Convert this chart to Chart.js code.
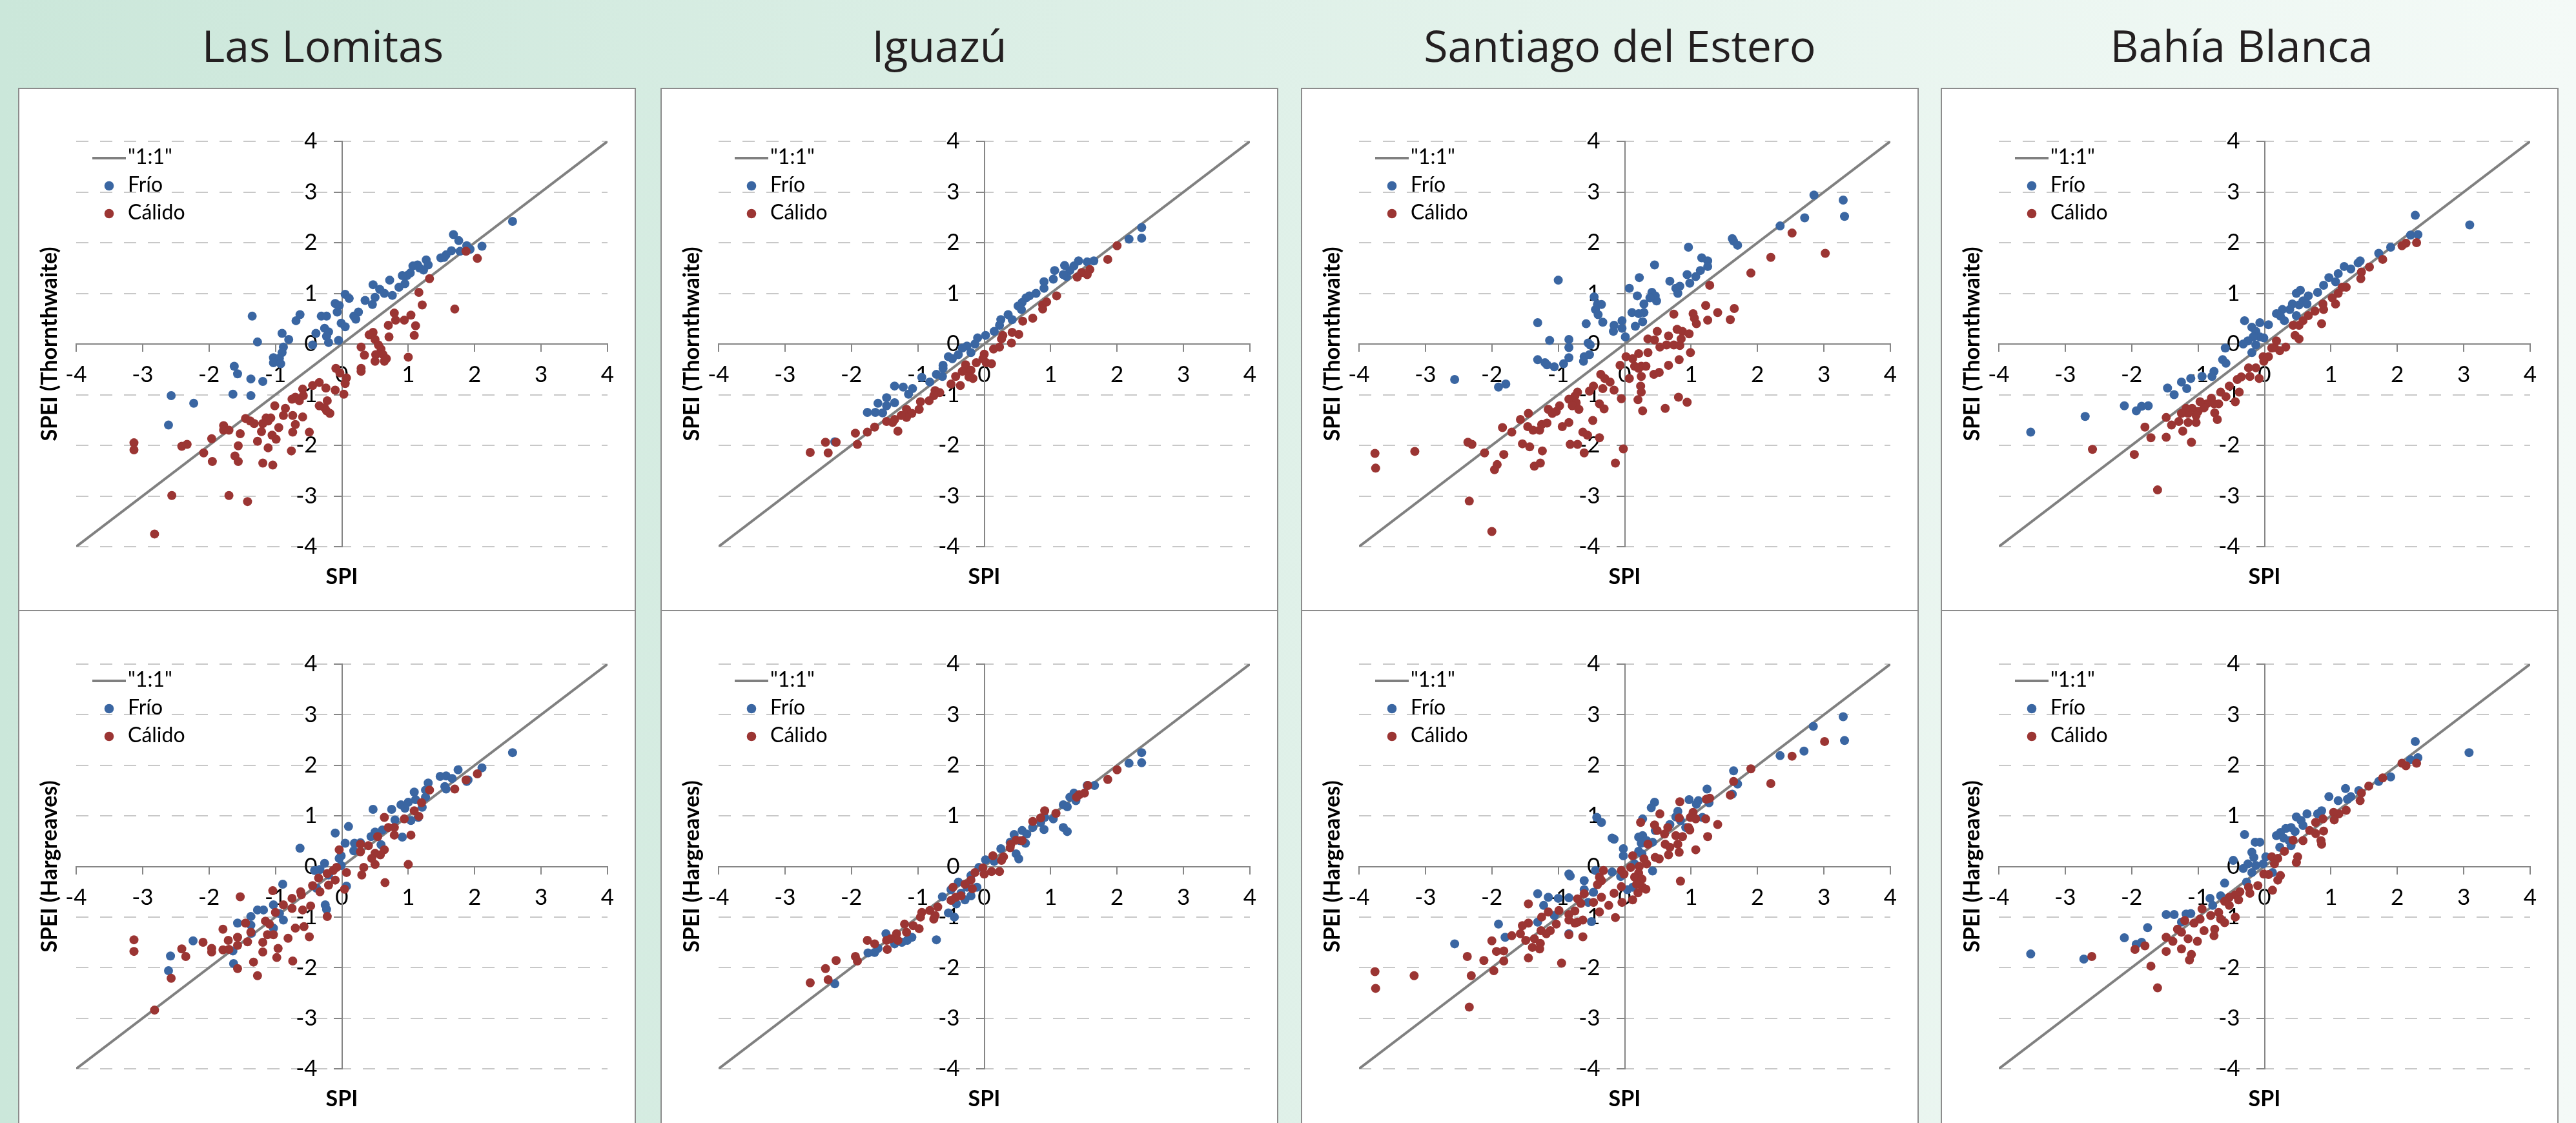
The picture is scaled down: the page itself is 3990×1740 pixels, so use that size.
<!DOCTYPE html>
<html lang="es">
<head>
  <meta charset="UTF-8">
  <title>SPEI vs SPI</title>
  <script src="https://cdn.jsdelivr.net/npm/chart.js@4.4.1/dist/chart.umd.min.js"></script>
  <style>
    html, body { margin: 0; padding: 0; }
    body {
      width: 3990px; height: 1740px; overflow: hidden; position: relative;
      background: linear-gradient(to right, #cbe7da, #f4faf7);
    }
    .title {
      position: absolute; top: 36px; width: 1000px; text-align: center;
      font-family: "Open Sans", sans-serif; font-size: 68px; line-height: 1; color: #231f20;
    }
    .panel {
      position: absolute; box-sizing: border-box; width: 957px;
      background: #fff; border: 2px solid #8c8c8c;
    }
    .panel canvas { display: block; }
  </style>
</head>
<body>

<script>
// ---------------- data ----------------
const stations = ['Las Lomitas', 'Iguazú', 'Santiago del Estero', 'Bahía Blanca'];
const titleCenters = [500, 1455, 2509, 3472];
const yTitles = ['SPEI (Thornthwaite)', 'SPEI (Hargreaves)'];
const tickValues = [-4, -3, -2, -1, 0, 1, 2, 3, 4];
const oneToOne = [[-4, -4], [4, 4]];

// Las Lomitas - Thornthwaite
const llThFrio = [[2.57,2.42],[1.68,2.16],[1.76,2.04],[2.11,1.93],[1.88,1.94],[1.93,1.87],[1.78,1.83],[1.65,1.84],[1.57,1.76],[1.49,1.70],[1.54,1.71],[1.27,1.66],[1.30,1.56],[1.14,1.56],[1.07,1.54],[1.23,1.46],[1.17,1.50],[1.03,1.40],[0.98,1.35],[0.91,1.35],[0.72,1.26],[0.47,1.17],[0.95,1.19],[0.86,1.12],[0.57,1.08],[0.64,1.00],[0.76,0.96],[0.50,0.92],[0.05,0.98],[0.11,0.90],[0.35,0.86],[0.46,0.78],[-0.10,0.80],[-0.04,0.76],[-0.07,0.63],[0.25,0.63],[0.18,0.55],[0.21,0.49],[-0.01,0.41],[0.05,0.34],[-0.63,0.58],[-0.69,0.46],[-1.35,0.55],[-0.31,0.55],[-0.23,0.55],[-0.26,0.31],[-0.20,0.24],[-0.23,0.15],[-0.20,0.03],[-0.05,0.07],[-0.39,0.21],[-0.90,0.21],[-0.80,0.09],[-1.27,0.04],[-0.44,-0.02],[-0.88,-0.06],[-0.90,-0.17],[-1.03,-0.27],[-0.94,-0.28],[-1.03,-0.37],[-0.92,-0.39],[-1.19,-0.74],[-1.37,-0.69],[-1.62,-0.44],[-1.57,-0.59],[-1.64,-0.99],[-1.37,-1.02],[-2.23,-1.17],[-2.57,-1.02],[-2.61,-1.60]];
const llThCalido = [[1.87,1.83],[2.04,1.69],[1.32,1.29],[1.16,1.02],[1.21,0.77],[1.70,0.69],[0.79,0.61],[1.04,0.57],[0.81,0.47],[0.94,0.47],[0.70,0.37],[1.11,0.36],[0.47,0.23],[0.41,0.18],[1.09,0.17],[0.71,0.14],[0.50,0.09],[0.55,-0.02],[0.29,-0.06],[0.59,-0.10],[0.34,-0.22],[0.51,-0.21],[0.62,-0.21],[1.00,-0.26],[0.67,-0.29],[0.50,-0.34],[0.64,-0.34],[0.29,-0.48],[0.29,-0.54],[-0.09,-0.48],[-0.03,-0.57],[0.07,-0.67],[0.05,-0.78],[-0.10,-0.91],[0.03,-0.99],[-0.24,-0.87],[-0.34,-0.76],[-0.44,-0.82],[-0.59,-0.89],[-0.58,-1.02],[-0.70,-1.05],[-0.75,-1.09],[-0.64,-1.12],[-0.22,-1.12],[-0.34,-1.22],[-0.26,-1.26],[-0.18,-1.37],[-0.23,-1.32],[-1.01,-1.22],[-0.85,-1.27],[-0.88,-1.41],[-0.74,-1.41],[-0.59,-1.44],[-1.14,-1.46],[-1.07,-1.46],[-1.11,-1.52],[-1.45,-1.47],[-1.38,-1.52],[-1.32,-1.57],[-1.19,-1.57],[-0.95,-1.65],[-0.70,-1.59],[-1.78,-1.61],[-1.78,-1.70],[-1.70,-1.70],[-1.53,-1.77],[-1.21,-1.73],[-0.74,-1.74],[-0.49,-1.74],[-1.05,-1.80],[-0.99,-1.88],[-1.96,-1.87],[-1.56,-2.01],[-1.27,-1.92],[-1.11,-2.05],[-0.76,-2.11],[-3.13,-1.95],[-3.13,-2.09],[-2.41,-2.02],[-2.33,-1.98],[-2.08,-2.15],[-1.95,-2.32],[-1.61,-2.21],[-1.56,-2.32],[-1.19,-2.35],[-1.04,-2.39],[-2.56,-2.99],[-1.70,-2.99],[-1.42,-3.11],[-2.82,-3.75]];

// Las Lomitas - Hargreaves
const llHgFrio = [[2.57,2.25],[2.11,1.95],[1.75,1.91],[1.48,1.78],[1.57,1.79],[1.66,1.74],[1.90,1.71],[1.88,1.68],[1.30,1.65],[1.55,1.58],[1.57,1.53],[1.26,1.51],[1.09,1.47],[1.26,1.37],[1.11,1.32],[1.00,1.27],[0.89,1.22],[0.95,1.15],[0.75,1.13],[1.21,1.17],[1.15,0.97],[1.04,0.91],[0.47,1.13],[0.80,0.92],[0.61,0.72],[0.50,0.68],[0.44,0.59],[0.91,0.58],[0.10,0.79],[-0.10,0.66],[0.05,0.46],[0.19,0.46],[0.28,0.47],[0.59,0.43],[0.18,0.31],[-0.01,0.21],[-0.04,0.16],[-0.63,0.36],[-0.26,0.06],[-0.01,0.02],[-0.33,-0.06],[-0.41,-0.08],[-0.20,-0.17],[0.07,-0.39],[-0.38,-0.43],[-0.89,-0.35],[-1.03,-0.76],[-0.94,-0.93],[-0.25,-0.76],[-0.23,-0.85],[-0.88,-1.06],[-1.27,-0.86],[-1.18,-0.86],[-1.37,-0.99],[-1.37,-1.16],[-1.57,-1.12],[-1.03,-1.22],[-1.36,-1.32],[-2.24,-1.47],[-1.64,-1.67],[-1.63,-1.92],[-2.58,-1.77],[-2.61,-2.06]];
const llHgCalido = [[2.04,1.83],[1.87,1.71],[1.70,1.53],[1.32,1.51],[1.20,1.26],[1.09,1.10],[1.16,0.99],[0.64,0.97],[0.94,0.94],[0.70,0.77],[0.79,0.77],[0.79,0.62],[1.04,0.62],[0.54,0.59],[0.28,0.44],[0.40,0.41],[-0.04,0.33],[0.64,0.33],[0.28,0.29],[0.50,0.26],[0.58,0.23],[0.45,0.16],[1.00,0.04],[0.50,0.04],[0.33,-0.02],[-0.08,-0.02],[-0.13,-0.08],[0.07,-0.12],[0.30,-0.17],[-0.22,-0.14],[-0.35,-0.23],[-0.10,-0.27],[-0.20,-0.37],[0.65,-0.32],[0.04,-0.45],[-0.44,-0.38],[-0.33,-0.50],[-0.62,-0.50],[-0.61,-0.56],[-0.75,-0.63],[-1.04,-0.48],[-0.88,-0.76],[-0.47,-0.78],[-0.59,-0.86],[-0.75,-0.83],[-1.00,-0.91],[-0.22,-0.99],[-1.15,-1.08],[-1.09,-1.14],[-0.57,-1.19],[-0.70,-1.22],[-1.45,-1.12],[-1.37,-1.30],[-1.53,-0.60],[-1.79,-1.24],[-1.12,-1.35],[-1.03,-1.35],[-0.81,-1.42],[-0.49,-1.39],[-1.71,-1.46],[-1.57,-1.40],[-1.42,-1.49],[-1.19,-1.50],[-1.57,-1.56],[-2.09,-1.50],[-3.13,-1.45],[-3.13,-1.68],[-2.41,-1.63],[-2.35,-1.78],[-1.96,-1.62],[-1.96,-1.69],[-1.79,-1.65],[-1.70,-1.64],[-1.19,-1.69],[-0.96,-1.62],[-0.98,-1.80],[-1.33,-1.89],[-0.74,-1.87],[-1.57,-2.02],[-1.27,-2.16],[-2.57,-2.21],[-2.82,-2.84]];

// Iguazu - Thornthwaite
const igThFrio = [[2.37,2.30],[2.18,2.07],[2.37,2.09],[1.65,1.64],[1.55,1.62],[1.42,1.64],[1.35,1.54],[1.21,1.55],[1.29,1.45],[1.06,1.45],[1.24,1.33],[1.19,1.37],[1.04,1.28],[0.90,1.23],[0.90,1.10],[0.78,1.00],[0.68,0.95],[0.63,0.91],[0.57,0.82],[0.51,0.75],[0.56,0.68],[0.36,0.58],[0.25,0.48],[0.42,0.48],[0.23,0.37],[0.15,0.25],[0.02,0.17],[-0.10,0.12],[-0.14,0.00],[-0.26,-0.04],[-0.33,-0.08],[-0.20,-0.17],[-0.39,-0.21],[-0.54,-0.25],[-0.48,-0.29],[-0.62,-0.42],[-0.62,-0.48],[-0.63,-0.64],[-0.72,-0.60],[-0.94,-0.66],[-0.82,-0.75],[-1.35,-0.83],[-1.22,-0.85],[-1.08,-0.88],[-1.14,-0.99],[-1.47,-1.06],[-1.35,-1.16],[-1.60,-1.17],[-1.47,-1.22],[-1.76,-1.35],[-1.64,-1.35],[-1.53,-1.36],[-2.25,-1.93]];
const igThCalido = [[2.00,1.94],[1.86,1.67],[1.59,1.47],[1.47,1.41],[1.40,1.32],[1.55,1.37],[1.09,0.95],[0.94,0.83],[0.88,0.77],[0.88,0.69],[0.73,0.51],[0.58,0.45],[0.52,0.19],[0.42,0.23],[0.28,0.17],[0.26,0.10],[0.41,0.02],[0.23,-0.06],[0.14,-0.10],[0.00,-0.20],[-0.02,-0.29],[0.11,-0.39],[0.03,-0.37],[-0.12,-0.37],[-0.28,-0.41],[-0.29,-0.50],[-0.20,-0.52],[-0.33,-0.54],[-0.43,-0.64],[-0.17,-0.68],[-0.23,-0.65],[-0.36,-0.82],[-0.50,-0.79],[-0.74,-0.92],[-0.67,-0.96],[-0.76,-1.02],[-0.83,-1.12],[-0.96,-1.14],[-0.98,-1.29],[-1.17,-1.29],[-1.09,-1.37],[-1.17,-1.45],[-1.25,-1.41],[-1.35,-1.49],[-1.47,-1.53],[-1.38,-1.55],[-1.65,-1.64],[-1.76,-1.74],[-1.30,-1.72],[-1.94,-1.76],[-1.91,-1.98],[-2.23,-1.94],[-2.39,-1.94],[-2.35,-2.15],[-2.62,-2.14]];

// Iguazu - Hargreaves
const igHgFrio = [[2.37,2.25],[2.37,2.05],[2.18,2.04],[1.66,1.60],[1.55,1.60],[1.35,1.45],[1.29,1.37],[1.38,1.30],[1.19,1.22],[1.25,1.18],[1.04,0.94],[0.91,0.97],[0.85,0.87],[0.73,0.77],[0.90,0.73],[1.19,0.77],[1.25,0.69],[0.57,0.71],[0.45,0.63],[0.64,0.64],[0.54,0.51],[0.62,0.46],[0.39,0.48],[0.25,0.35],[0.48,0.25],[0.52,0.15],[0.02,0.13],[0.15,0.10],[-0.08,-0.02],[-0.20,-0.18],[-0.11,-0.41],[-0.39,-0.31],[-0.26,-0.41],[-0.35,-0.53],[-0.20,-0.58],[-0.29,-0.66],[-0.50,-0.46],[-0.63,-0.60],[-0.42,-0.74],[-0.45,-1.00],[-0.54,-0.92],[-0.72,-1.45],[-1.09,-1.40],[-1.16,-1.46],[-1.48,-1.33],[-1.35,-1.53],[-1.24,-1.50],[-1.60,-1.62],[-1.65,-1.70],[-1.75,-1.71],[-2.25,-2.32]];
const igHgCalido = [[2.00,1.91],[1.86,1.72],[1.56,1.60],[1.51,1.45],[1.43,1.42],[1.39,1.37],[1.08,1.05],[0.91,1.10],[0.85,0.96],[0.73,0.89],[0.57,0.51],[0.48,0.52],[0.40,0.44],[0.39,0.37],[0.13,0.21],[0.29,0.19],[0.26,0.12],[-0.02,-0.03],[0.11,-0.10],[0.23,-0.10],[0.00,-0.15],[-0.14,-0.12],[-0.20,-0.27],[-0.29,-0.35],[-0.47,-0.41],[-0.18,-0.44],[-0.35,-0.58],[-0.43,-0.61],[-0.50,-0.67],[-0.70,-0.80],[-0.82,-0.87],[-0.94,-0.91],[-0.74,-0.97],[-0.76,-1.04],[-0.96,-1.00],[-1.07,-1.17],[-1.20,-1.14],[-0.98,-1.23],[-1.17,-1.30],[-1.32,-1.33],[-1.41,-1.43],[-1.30,-1.46],[-1.47,-1.46],[-1.76,-1.46],[-1.65,-1.53],[-1.46,-1.64],[-1.94,-1.78],[-1.91,-1.87],[-2.23,-1.86],[-2.39,-2.02],[-2.35,-2.24],[-2.62,-2.30]];

// Santiago del Estero - Thornthwaite
const seThFrio = [[2.85,2.94],[3.29,2.84],[3.31,2.52],[2.71,2.49],[2.34,2.33],[1.62,2.08],[1.64,2.03],[1.70,1.95],[0.96,1.91],[1.16,1.70],[1.25,1.64],[1.25,1.53],[1.14,1.45],[1.07,1.33],[0.94,1.37],[0.98,1.20],[0.45,1.56],[0.22,1.31],[0.68,1.24],[0.83,1.14],[0.77,1.10],[0.80,1.00],[0.07,1.10],[0.19,0.95],[0.41,1.02],[0.46,0.95],[0.48,0.85],[0.38,0.91],[0.29,0.79],[0.11,0.62],[0.21,0.60],[0.29,0.62],[0.27,0.44],[0.16,0.35],[-0.04,0.46],[-0.04,0.31],[-0.16,0.37],[-0.17,0.25],[0.01,0.14],[-1.00,1.26],[-0.46,0.93],[-0.35,0.78],[-0.41,0.78],[-0.44,0.68],[-0.40,0.58],[-0.33,0.43],[-0.58,0.40],[-1.31,0.42],[-1.13,0.07],[-0.84,0.09],[-0.84,-0.07],[-0.55,0.02],[-0.52,-0.02],[-0.84,-0.27],[-0.61,-0.25],[-0.53,-0.21],[-0.62,-0.34],[-1.31,-0.31],[-1.20,-0.37],[-1.17,-0.41],[-1.06,-0.45],[-0.92,-0.39],[-2.56,-0.70],[-1.90,-0.85],[-1.79,-0.79]];
const seThCalido = [[2.52,2.19],[3.02,1.79],[2.20,1.71],[1.90,1.40],[1.28,1.16],[1.22,0.76],[1.65,0.70],[1.40,0.62],[0.74,0.59],[1.03,0.60],[1.05,0.51],[1.59,0.48],[1.25,0.47],[1.08,0.40],[0.49,0.25],[0.79,0.29],[0.87,0.25],[0.97,0.20],[0.66,0.16],[0.35,0.10],[0.45,0.08],[0.85,0.10],[0.63,-0.02],[0.74,-0.02],[0.83,-0.03],[0.53,-0.06],[0.99,-0.17],[0.35,-0.17],[0.21,-0.19],[0.02,-0.25],[0.12,-0.29],[0.82,-0.31],[0.66,-0.42],[-0.07,-0.42],[0.15,-0.44],[0.25,-0.44],[0.32,-0.44],[0.21,-0.48],[0.44,-0.60],[0.52,-0.56],[0.07,-0.68],[0.25,-0.64],[0.24,-0.83],[0.25,-0.95],[-0.16,-0.91],[-0.05,-1.08],[0.20,-1.10],[0.27,-1.32],[0.61,-1.27],[0.81,-1.05],[0.94,-1.15],[-0.36,-0.60],[-0.30,-0.68],[-0.22,-0.75],[-0.47,-0.83],[-0.33,-0.88],[-0.53,-0.93],[-0.71,-0.95],[-0.75,-1.03],[-0.84,-1.09],[-0.73,-1.16],[-0.79,-1.22],[-0.38,-1.18],[-0.31,-1.28],[-0.69,-1.29],[-0.98,-1.22],[-1.15,-1.29],[-1.09,-1.37],[-1.03,-1.33],[-1.45,-1.37],[-1.57,-1.49],[-1.46,-1.63],[-1.38,-1.70],[-1.28,-1.70],[-1.25,-1.59],[-1.17,-1.56],[-0.84,-1.55],[-0.94,-1.63],[-0.48,-1.51],[-1.84,-1.65],[-1.70,-1.74],[-0.63,-1.74],[-0.56,-1.80],[-0.38,-1.85],[-1.54,-1.97],[-1.43,-2.03],[-0.82,-1.98],[-0.71,-1.98],[-0.61,-2.15],[-1.24,-2.11],[-0.02,-2.07],[-2.36,-1.94],[-2.30,-1.98],[-2.11,-2.15],[-1.82,-2.18],[-1.92,-2.38],[-1.96,-2.48],[-1.36,-2.41],[-1.27,-2.35],[-0.14,-2.35],[-3.76,-2.16],[-3.75,-2.45],[-3.16,-2.12],[-2.34,-3.10],[-2.00,-3.70]];

// Santiago del Estero - Hargreaves
const seHgFrio = [[3.29,2.96],[3.31,2.49],[2.84,2.77],[2.70,2.28],[2.34,2.19],[1.64,1.89],[1.70,1.63],[1.62,1.43],[1.24,1.53],[1.27,1.26],[0.97,1.32],[1.11,1.30],[1.08,1.23],[1.17,0.97],[0.80,1.09],[0.77,0.98],[0.84,0.91],[0.92,0.77],[0.45,1.27],[0.40,1.16],[0.27,0.94],[0.46,0.71],[0.68,0.83],[0.21,0.58],[0.27,0.61],[0.25,0.46],[0.33,0.51],[0.42,0.48],[0.21,0.30],[0.26,0.25],[-0.02,0.35],[-0.02,0.21],[0.15,0.05],[0.42,-0.09],[-0.06,-0.20],[0.12,-0.41],[0.04,-0.46],[-0.42,0.97],[-0.35,0.87],[-0.19,0.56],[-0.16,0.54],[-0.19,-0.11],[-0.44,-0.08],[-0.84,-0.15],[-0.82,-0.19],[-0.61,-0.28],[-0.61,-0.46],[-0.47,-0.51],[-0.55,-0.71],[-0.50,-1.09],[-0.84,-0.62],[-1.00,-0.63],[-1.15,-0.61],[-1.22,-0.77],[-1.31,-0.54],[-1.06,-0.97],[-1.31,-1.10],[-0.84,-1.33],[-1.90,-1.14],[-1.80,-1.40],[-2.56,-1.53]];
const seHgCalido = [[3.01,2.47],[2.52,2.18],[1.90,1.93],[1.64,1.68],[2.20,1.64],[1.59,1.41],[1.23,1.33],[1.28,1.35],[0.83,1.28],[1.22,0.94],[1.40,0.83],[1.25,0.59],[1.07,0.33],[1.03,1.07],[0.99,0.97],[1.07,0.94],[0.82,0.96],[0.53,1.04],[0.24,0.87],[0.45,0.82],[0.49,0.71],[0.65,0.77],[0.96,0.77],[0.98,0.72],[0.60,0.64],[0.77,0.61],[0.87,0.59],[0.35,0.44],[0.61,0.44],[0.68,0.38],[0.80,0.44],[0.82,0.28],[0.66,0.23],[0.12,0.21],[0.29,0.15],[0.46,0.18],[0.52,0.15],[0.33,0.05],[0.22,0.00],[0.09,-0.02],[-0.05,-0.08],[-0.01,-0.15],[0.21,-0.13],[0.15,-0.21],[0.26,-0.25],[0.18,-0.35],[0.27,-0.41],[0.32,-0.45],[0.20,-0.52],[0.84,-0.29],[-0.05,-0.40],[0.12,-0.66],[-0.16,-0.53],[-0.04,-0.71],[-0.32,-0.08],[-0.38,-0.21],[-0.35,-0.28],[-0.41,-0.36],[-0.61,-0.54],[-0.71,-0.64],[-0.35,-0.61],[-0.47,-0.71],[-0.66,-0.73],[-0.24,-0.77],[-0.38,-0.90],[-0.14,-1.01],[-0.75,-0.88],[-0.84,-0.95],[-0.99,-0.87],[-0.71,-1.10],[-0.84,-1.06],[-0.75,-1.12],[-0.63,-1.06],[-1.15,-0.90],[-1.25,-1.00],[-1.03,-1.14],[-1.12,-1.27],[-1.45,-0.74],[-1.45,-1.12],[-1.54,-1.17],[-1.26,-1.27],[-1.18,-1.33],[-0.84,-1.35],[-0.63,-1.39],[-1.57,-1.33],[-1.49,-1.46],[-1.36,-1.43],[-1.27,-1.52],[-1.39,-1.60],[-1.28,-1.63],[-1.70,-1.37],[-2.00,-1.47],[-1.93,-1.68],[-1.82,-1.67],[-1.45,-1.81],[-1.82,-1.87],[-2.12,-1.86],[-2.37,-1.78],[-1.97,-2.06],[-0.95,-1.91],[-2.31,-2.16],[-3.76,-2.08],[-3.75,-2.41],[-3.17,-2.16],[-2.34,-2.78]];

// Bahia Blanca - Thornthwaite
const bbThFrio = [[2.27,2.54],[3.09,2.35],[2.31,2.16],[2.20,2.15],[1.90,1.91],[1.72,1.79],[1.44,1.64],[1.41,1.60],[1.20,1.53],[1.30,1.48],[1.11,1.39],[0.97,1.31],[1.07,1.23],[0.89,1.16],[0.80,1.02],[0.54,1.06],[0.48,1.00],[0.66,0.95],[0.58,0.85],[0.64,0.79],[0.42,0.79],[0.52,0.77],[0.38,0.68],[0.27,0.68],[0.18,0.60],[0.24,0.55],[0.48,0.56],[0.30,0.46],[0.06,0.38],[-0.07,0.42],[-0.30,0.46],[-0.19,0.33],[-0.13,0.25],[-0.07,0.14],[-0.17,0.14],[-0.25,0.06],[-0.32,0.00],[-0.01,0.12],[-0.13,-0.02],[-0.19,-0.17],[-0.59,-0.08],[-0.63,-0.31],[-0.58,-0.38],[-0.76,-0.54],[-0.79,-0.64],[-0.94,-0.64],[-1.11,-0.68],[-1.25,-0.75],[-1.17,-0.88],[-1.46,-0.87],[-1.36,-1.00],[-2.11,-1.22],[-1.93,-1.32],[-1.85,-1.23],[-1.75,-1.22],[-2.70,-1.43],[-3.52,-1.74]];
const bbThCalido = [[2.29,2.00],[2.13,1.99],[2.07,1.94],[1.78,1.67],[1.58,1.52],[1.46,1.42],[1.45,1.29],[1.23,1.12],[1.17,1.12],[1.11,1.00],[1.07,0.79],[1.02,0.91],[0.88,0.79],[0.89,0.68],[0.76,0.65],[0.66,0.56],[0.58,0.46],[0.86,0.40],[0.43,0.37],[0.52,0.37],[0.46,0.17],[0.52,0.10],[0.18,0.06],[0.15,-0.07],[0.32,-0.06],[0.23,-0.13],[0.11,-0.08],[-0.02,-0.25],[0.06,-0.25],[-0.01,-0.34],[-0.13,-0.47],[-0.24,-0.47],[-0.08,-0.68],[-0.22,-0.64],[-0.35,-0.65],[-0.41,-0.70],[-0.53,-0.83],[-0.38,-0.95],[-0.44,-1.14],[-0.66,-0.95],[-0.58,-1.04],[-0.69,-1.18],[-0.80,-1.07],[-0.76,-1.18],[-0.87,-1.18],[-0.91,-1.26],[-0.97,-1.14],[-1.09,-1.27],[-1.00,-1.33],[-1.18,-1.27],[-1.15,-1.37],[-1.03,-1.41],[-0.75,-1.36],[-0.71,-1.49],[-1.03,-1.55],[-1.15,-1.55],[-1.25,-1.37],[-1.29,-1.53],[-1.48,-1.45],[-1.40,-1.60],[-1.23,-1.72],[-1.48,-1.84],[-1.80,-1.64],[-1.71,-1.85],[-1.10,-1.94],[-1.96,-2.18],[-2.59,-2.08],[-1.61,-2.88]];

// Bahia Blanca - Hargreaves
const bbHgFrio = [[2.27,2.47],[3.08,2.25],[2.31,2.15],[2.20,2.11],[1.90,1.77],[1.72,1.68],[1.42,1.50],[1.22,1.54],[1.30,1.38],[1.25,1.33],[0.97,1.38],[1.11,1.30],[0.86,1.10],[0.80,1.04],[0.64,1.04],[0.48,0.98],[0.55,0.91],[0.58,0.81],[0.40,0.77],[0.32,0.75],[0.46,0.69],[0.24,0.67],[0.18,0.61],[0.29,0.56],[0.37,0.51],[0.23,0.38],[0.40,0.41],[-0.30,0.63],[-0.14,0.48],[-0.07,0.48],[-0.19,0.28],[-0.16,0.18],[0.02,0.19],[-0.25,0.05],[-0.13,0.02],[-0.02,0.05],[-0.47,0.12],[-0.32,-0.04],[-0.19,-0.12],[0.12,-0.12],[-0.27,-0.31],[-0.60,-0.33],[-0.66,-0.58],[-0.82,-0.63],[-0.78,-0.77],[-1.18,-0.94],[-1.11,-0.93],[-1.48,-0.95],[-1.36,-0.95],[-1.25,-1.10],[-1.76,-1.21],[-2.11,-1.41],[-1.93,-1.54],[-1.85,-1.50],[-2.72,-1.83],[-3.52,-1.73]];
const bbHgCalido = [[2.29,2.04],[2.13,1.99],[2.07,2.04],[1.78,1.75],[1.57,1.59],[1.46,1.45],[1.44,1.30],[1.23,1.11],[1.12,1.04],[1.04,1.07],[1.05,0.92],[0.88,0.94],[0.89,0.70],[0.77,0.87],[0.68,0.71],[0.77,0.65],[0.85,0.51],[0.86,0.44],[0.43,0.52],[0.58,0.51],[0.50,0.19],[0.48,0.08],[0.30,0.30],[0.11,0.19],[0.20,0.16],[0.15,0.05],[-0.01,-0.15],[0.06,-0.16],[0.24,-0.18],[0.20,-0.27],[0.12,-0.47],[-0.10,-0.38],[-0.24,-0.41],[-0.22,-0.53],[-0.37,-0.50],[-0.44,-0.56],[-0.39,-0.66],[-0.53,-0.61],[-0.60,-0.69],[-0.53,-0.77],[-0.44,-1.00],[-0.69,-0.91],[-0.81,-0.97],[-0.66,-1.04],[-0.97,-1.04],[-0.94,-0.84],[-1.06,-1.12],[-1.20,-1.07],[-0.60,-1.11],[-0.75,-1.24],[-0.91,-1.27],[-0.76,-1.37],[-1.31,-1.24],[-1.25,-1.30],[-1.15,-1.43],[-1.01,-1.48],[-1.48,-1.40],[-1.38,-1.48],[-1.25,-1.63],[-1.10,-1.74],[-1.13,-1.85],[-1.48,-1.68],[-1.80,-1.57],[-1.95,-1.64],[-2.60,-1.78],[-1.71,-1.97],[-1.61,-2.40]];

// ---------------- layout / styles ----------------
const colLeft = [28, 1023, 2015, 3006];
const rowTop = [136, 945];
const rowHeight = [811, 800];
const BLUE = '#3a66a2';
const RED = '#9b3533';
const LINE_GREY = '#808080';
const AXIS_GREY = '#868686';
const GRID_GREY = '#c8c8c8';
const Y_LABEL_GAP = 38;   // tick (12) + padding, left of the crossing y axis

const panels = [
  {col: 0, row: 0, frio: llThFrio, calido: llThCalido},
  {col: 1, row: 0, frio: igThFrio, calido: igThCalido},
  {col: 2, row: 0, frio: seThFrio, calido: seThCalido},
  {col: 3, row: 0, frio: bbThFrio, calido: bbThCalido},
  {col: 0, row: 1, frio: llHgFrio, calido: llHgCalido},
  {col: 1, row: 1, frio: igHgFrio, calido: igHgCalido},
  {col: 2, row: 1, frio: seHgFrio, calido: seHgCalido},
  {col: 3, row: 1, frio: bbHgFrio, calido: bbHgCalido}
];

const toXY = pairs => pairs.map(p => ({x: p[0], y: p[1]}));

// legend inside the plot + axis titles, Excel style
const excelExtras = {
  id: 'excelExtras',
  beforeDraw(chart) {
    // y labels of an axis placed at x=0 sit on the axis itself; push them left
    const items = chart.scales.y.getLabelItems();
    if (!items._shifted) {
      items.forEach(it => { it.options.translation[0] -= Y_LABEL_GAP; });
      items._shifted = true;
    }
  },
  afterDraw(chart, args, opts) {
    const {ctx, chartArea: a} = chart;
    const ds = chart.data.datasets;
    const legendOrder = [2, 1, 0];   // "1:1", Frío, Cálido
    ctx.save();
    ctx.font = '32px Lato';
    ctx.textBaseline = 'middle';
    ctx.textAlign = 'left';
    legendOrder.forEach((idx, i) => {
      const d = ds[idx];
      const cy = a.top + 26 + i * 43;
      if (d.type === 'line') {
        ctx.strokeStyle = d.borderColor;
        ctx.lineWidth = 4;
        ctx.beginPath();
        ctx.moveTo(a.left + 25, cy);
        ctx.lineTo(a.left + 77, cy);
        ctx.stroke();
      } else {
        ctx.fillStyle = d.backgroundColor;
        ctx.beginPath();
        ctx.arc(a.left + 51, cy, 7.3, 0, Math.PI * 2);
        ctx.fill();
      }
      ctx.fillStyle = '#000';
      ctx.fillText(d.label, a.left + 80, cy - 1);
    });
    ctx.font = 'bold 34px Lato';
    ctx.textAlign = 'center';
    ctx.fillText('SPI', (a.left + a.right) / 2, a.bottom + 47);
    ctx.translate(a.left - 41, (a.top + a.bottom) / 2);
    ctx.rotate(-Math.PI / 2);
    ctx.fillText(opts.yTitle, 0, 0);
    ctx.restore();
  }
};

stations.forEach((name, i) => {
  const t = document.createElement('div');
  t.className = 'title';
  t.style.left = (titleCenters[i] - 500) + 'px';
  t.textContent = name;
  document.body.appendChild(t);
});

const tickFont = {family: 'Lato', size: 35};

panels.forEach(p => {
  const box = document.createElement('div');
  box.className = 'panel';
  box.style.left = colLeft[p.col] + 'px';
  box.style.top = rowTop[p.row] + 'px';
  box.style.height = rowHeight[p.row] + 'px';
  const canvas = document.createElement('canvas');
  canvas.width = 953;
  canvas.height = rowHeight[p.row] - 4;
  box.appendChild(canvas);
  document.body.appendChild(box);

  new Chart(canvas, {
    type: 'scatter',
    data: {
      datasets: [
        {label: 'Cálido', data: toXY(p.calido), backgroundColor: RED, pointRadius: 7, pointBorderWidth: 0, order: 1},
        {label: 'Frío', data: toXY(p.frio), backgroundColor: BLUE, pointRadius: 7, pointBorderWidth: 0, order: 2},
        {label: '"1:1"', type: 'line', data: toXY(oneToOne), borderColor: LINE_GREY, borderWidth: 4, pointRadius: 0, order: 3}
      ]
    },
    options: {
      responsive: false,
      animation: false,
      devicePixelRatio: 1,
      layout: {padding: p.row === 0 ? {left: 88, right: 42, top: 81, bottom: 98} : {left: 88, right: 42, top: 82, bottom: 87}},
      plugins: {
        legend: {display: false},
        tooltip: {enabled: false},
        excelExtras: {yTitle: yTitles[p.row]}
      },
      scales: {
        x: {
          type: 'linear', min: -4, max: 4, position: {y: 0},
          afterBuildTicks: s => { s.ticks = tickValues.map(v => ({value: v})); },
          ticks: {font: tickFont, color: '#000', padding: 16, maxRotation: 0},
          grid: {drawOnChartArea: false, tickLength: 11, color: AXIS_GREY, lineWidth: 2},
          border: {color: AXIS_GREY, width: 2}
        },
        y: {
          type: 'linear', min: -4, max: 4, position: {x: 0},
          afterBuildTicks: s => { s.ticks = tickValues.map(v => ({value: v})); },
          ticks: {font: tickFont, color: '#000'},
          grid: {color: GRID_GREY, lineWidth: 2, tickLength: 12, tickColor: AXIS_GREY, tickWidth: 2},
          border: {color: AXIS_GREY, width: 2, dash: [19, 18]}
        }
      }
    },
    plugins: [excelExtras]
  });
});
</script>
</body>
</html>
